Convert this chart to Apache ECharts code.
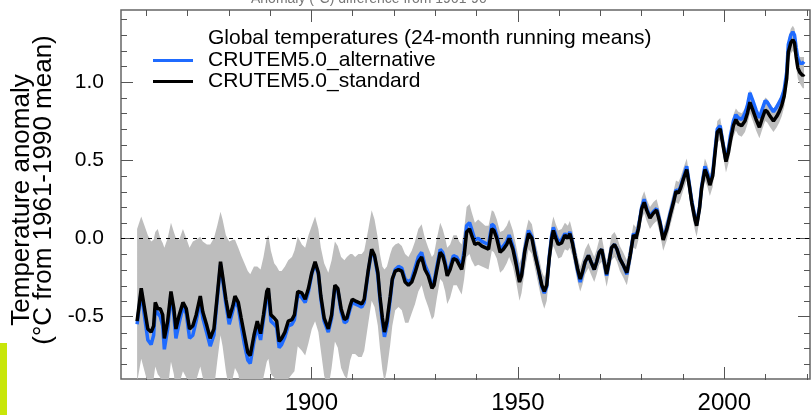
<!DOCTYPE html>
<html>
<head>
<meta charset="utf-8">
<script src="https://cdn.jsdelivr.net/npm/echarts@6/dist/echarts.min.js"></script>
<style>
  html, body { margin: 0; padding: 0; background: #fff; }
  #chart { width: 811px; height: 415px; }
</style>
</head>
<body>
<div id="chart"></div>
<script>
// CRUTEM5.0 global land temperature anomalies, 24-month running means (°C vs 1961-1990)
const years = [
  1857.8,1858.8,1859.6,1860.4,1861.2,1861.8,1862.2,1862.8,1863.4,1864.0,1864.4,1865.2,1866.0,1866.7,1867.2,1868.0,1868.9,1869.7,
  1870.5,1871.3,1872.1,1873.1,1873.7,1874.7,1875.5,1876.4,1877.2,1878.0,1878.5,1879.3,1880.1,1881.0,1881.5,1882.3,1883.0,1883.8,
  1884.6,1885.2,1886.1,1886.9,1887.7,1888.4,1889.2,1889.6,1890.2,1891.0,1891.6,1892.2,1892.8,1893.6,1894.4,1895.3,1895.9,1896.7,
  1897.7,1898.5,1899.3,1900.1,1900.9,1901.7,1902.3,1903.1,1904.1,1904.9,1905.7,1906.4,1907.2,1908.0,1908.6,1909.4,1909.9,1910.6,
  1911.4,1912.2,1912.8,1913.8,1914.6,1915.3,1916.1,1916.6,1917.2,1917.7,1918.3,1919.1,1919.6,1920.3,1921.1,1921.9,1922.7,1923.5,
  1924.3,1925.1,1925.9,1926.7,1927.5,1928.3,1929.2,1929.7,1930.4,1931.2,1931.8,1932.4,1932.9,1933.6,1934.4,1935.2,1935.8,1936.4,
  1937.0,1937.6,1938.3,1938.8,1939.6,1940.4,1941.3,1942.1,1942.9,1943.7,1944.2,1944.9,1945.7,1946.5,1947.3,1947.9,1948.8,1949.6,
  1950.4,1950.9,1951.7,1952.6,1953.4,1954.2,1955.0,1955.8,1956.4,1957.0,1957.6,1958.2,1958.6,1959.2,1959.8,1960.6,1961.4,1962.1,
  1962.6,1963.2,1963.8,1964.5,1965.1,1965.6,1966.3,1967.1,1967.7,1968.5,1969.1,1969.7,1970.3,1970.9,1971.5,1972.1,1972.7,1973.4,
  1974.0,1974.7,1975.5,1976.4,1977.2,1978.0,1978.6,1979.2,1980.0,1980.6,1981.2,1982.0,1982.8,1983.6,1984.4,1985.2,1986.1,1986.9,
  1987.7,1988.3,1988.9,1989.4,1990.1,1990.9,1991.5,1992.1,1992.9,1993.3,1994.0,1994.5,1995.3,1995.9,1996.5,1997.2,1997.7,1998.3,
  1999.0,1999.6,2000.4,2001.0,2001.5,2002.2,2002.8,2003.4,2004.2,2005.0,2005.6,2006.2,2006.9,2007.7,2008.5,2009.1,2009.9,2010.4,
  2011.1,2011.9,2012.7,2013.3,2013.9,2014.5,2015.1,2015.5,2016.1,2016.6,2017.0,2017.4,2017.8,2018.3,2019.0,2019.3
];

const standard = [
  -0.53,-0.32,-0.45,-0.58,-0.60,-0.56,-0.41,-0.45,-0.45,-0.49,-0.64,-0.53,-0.34,-0.45,-0.58,-0.49,-0.41,-0.45,
  -0.58,-0.56,-0.49,-0.37,-0.47,-0.56,-0.64,-0.58,-0.37,-0.15,-0.24,-0.39,-0.51,-0.43,-0.37,-0.41,-0.51,-0.62,
  -0.73,-0.75,-0.62,-0.53,-0.61,-0.49,-0.34,-0.32,-0.49,-0.51,-0.53,-0.66,-0.64,-0.60,-0.53,-0.52,-0.49,-0.34,
  -0.35,-0.39,-0.32,-0.22,-0.15,-0.22,-0.37,-0.51,-0.58,-0.49,-0.30,-0.32,-0.45,-0.52,-0.51,-0.43,-0.39,-0.40,
  -0.41,-0.42,-0.39,-0.20,-0.07,-0.11,-0.22,-0.37,-0.51,-0.60,-0.53,-0.37,-0.26,-0.21,-0.20,-0.21,-0.28,-0.30,
  -0.28,-0.22,-0.15,-0.12,-0.20,-0.24,-0.32,-0.30,-0.20,-0.09,-0.11,-0.17,-0.24,-0.20,-0.13,-0.14,-0.17,-0.20,
  -0.11,0.04,0.06,0.02,-0.04,-0.03,-0.05,-0.06,-0.07,0.06,0.05,0.00,-0.09,-0.07,-0.04,0.00,-0.07,-0.17,
  -0.28,-0.24,-0.08,0.03,0.00,-0.11,-0.20,-0.30,-0.34,-0.30,-0.13,0.00,0.05,0.00,-0.04,-0.03,0.02,0.00,
  0.03,-0.03,-0.11,-0.20,-0.26,-0.22,-0.15,-0.11,-0.15,-0.20,-0.15,-0.09,-0.07,-0.15,-0.23,-0.15,-0.06,-0.04,
  -0.07,-0.13,-0.17,-0.22,-0.11,0.02,0.00,0.06,0.19,0.23,0.18,0.13,0.16,0.18,0.10,-0.01,0.06,0.15,
  0.23,0.30,0.29,0.32,0.38,0.44,0.34,0.23,0.12,0.08,0.19,0.32,0.44,0.40,0.34,0.40,0.53,0.68,
  0.70,0.61,0.49,0.55,0.63,0.72,0.76,0.73,0.72,0.75,0.80,0.87,0.82,0.76,0.71,0.76,0.82,0.81,
  0.78,0.75,0.78,0.81,0.85,0.91,1.02,1.19,1.25,1.27,1.25,1.16,1.09,1.06,1.04,1.05
];

const alternative = [
  -0.55,-0.34,-0.50,-0.65,-0.68,-0.62,-0.45,-0.48,-0.50,-0.56,-0.71,-0.58,-0.36,-0.49,-0.64,-0.54,-0.44,-0.48,
  -0.64,-0.62,-0.53,-0.40,-0.51,-0.61,-0.69,-0.62,-0.39,-0.17,-0.26,-0.42,-0.55,-0.46,-0.40,-0.44,-0.56,-0.68,
  -0.78,-0.80,-0.66,-0.57,-0.65,-0.52,-0.37,-0.35,-0.53,-0.55,-0.57,-0.70,-0.68,-0.63,-0.56,-0.55,-0.52,-0.36,
  -0.38,-0.41,-0.34,-0.23,-0.16,-0.23,-0.39,-0.53,-0.60,-0.51,-0.31,-0.33,-0.47,-0.54,-0.53,-0.45,-0.41,-0.42,
  -0.43,-0.44,-0.41,-0.21,-0.08,-0.12,-0.24,-0.39,-0.54,-0.63,-0.56,-0.39,-0.27,-0.20,-0.18,-0.19,-0.26,-0.28,
  -0.26,-0.19,-0.12,-0.09,-0.17,-0.22,-0.30,-0.28,-0.18,-0.07,-0.09,-0.15,-0.22,-0.18,-0.11,-0.12,-0.15,-0.17,
  -0.08,0.08,0.10,0.06,-0.01,0.00,-0.02,-0.03,-0.04,0.09,0.08,0.02,-0.07,-0.05,-0.02,0.02,-0.05,-0.15,
  -0.27,-0.23,-0.07,0.05,0.01,-0.10,-0.20,-0.31,-0.35,-0.31,-0.12,0.02,0.07,0.02,-0.02,-0.01,0.03,0.01,
  0.04,-0.02,-0.11,-0.21,-0.28,-0.23,-0.15,-0.11,-0.15,-0.20,-0.15,-0.09,-0.07,-0.15,-0.24,-0.15,-0.06,-0.04,
  -0.07,-0.13,-0.17,-0.23,-0.11,0.03,0.01,0.07,0.20,0.25,0.19,0.14,0.17,0.19,0.11,0.00,0.07,0.16,
  0.24,0.31,0.30,0.33,0.39,0.46,0.35,0.24,0.13,0.09,0.20,0.33,0.46,0.42,0.35,0.42,0.55,0.70,
  0.72,0.62,0.50,0.57,0.66,0.75,0.79,0.77,0.76,0.80,0.85,0.93,0.88,0.82,0.77,0.82,0.88,0.87,
  0.84,0.81,0.84,0.87,0.90,0.95,1.06,1.24,1.30,1.32,1.30,1.22,1.15,1.12,1.12,1.13
];

// Lower and upper edges of the uncertainty range
const bandLow = [
  -0.92,-0.77,-0.85,-0.93,-0.92,-0.90,-0.82,-0.87,-0.89,-0.95,-1.05,-0.97,-0.79,-0.87,-0.99,-0.93,-0.85,-0.89,
  -0.93,-0.92,-0.91,-0.82,-0.89,-1.00,-1.03,-0.97,-0.79,-0.62,-0.69,-0.85,-0.97,-0.89,-0.83,-0.87,-0.97,-1.05,
  -1.12,-1.15,-1.05,-0.99,-1.02,-0.89,-0.79,-0.77,-0.87,-0.89,-0.93,-1.02,-1.00,-0.97,-0.90,-0.87,-0.85,-0.69,
  -0.72,-0.75,-0.67,-0.58,-0.53,-0.60,-0.72,-0.88,-0.96,-0.83,-0.66,-0.70,-0.83,-0.88,-0.90,-0.78,-0.74,-0.74,
  -0.76,-0.76,-0.72,-0.54,-0.40,-0.44,-0.56,-0.70,-0.84,-0.92,-0.84,-0.68,-0.56,-0.46,-0.44,-0.46,-0.54,-0.54,
  -0.48,-0.42,-0.34,-0.30,-0.38,-0.44,-0.52,-0.50,-0.38,-0.26,-0.28,-0.34,-0.42,-0.38,-0.30,-0.30,-0.33,-0.36,
  -0.26,-0.12,-0.10,-0.14,-0.18,-0.17,-0.18,-0.19,-0.20,-0.08,-0.09,-0.13,-0.22,-0.20,-0.16,-0.12,-0.18,-0.28,
  -0.40,-0.35,-0.20,-0.07,-0.10,-0.20,-0.30,-0.40,-0.45,-0.40,-0.23,-0.09,-0.05,-0.09,-0.13,-0.12,-0.07,-0.08,
  -0.06,-0.11,-0.19,-0.28,-0.34,-0.30,-0.23,-0.19,-0.23,-0.28,-0.23,-0.17,-0.15,-0.23,-0.31,-0.23,-0.14,-0.12,
  -0.15,-0.21,-0.25,-0.30,-0.19,-0.06,-0.07,-0.01,0.12,0.16,0.11,0.06,0.09,0.11,0.03,-0.08,-0.01,0.08,
  0.16,0.23,0.22,0.25,0.31,0.37,0.27,0.16,0.05,0.01,0.12,0.25,0.37,0.33,0.27,0.33,0.46,0.61,
  0.63,0.54,0.42,0.48,0.56,0.65,0.69,0.66,0.65,0.68,0.73,0.80,0.75,0.69,0.64,0.69,0.75,0.74,
  0.71,0.68,0.71,0.74,0.78,0.84,0.95,1.12,1.18,1.20,1.18,1.09,1.02,0.99,0.96,0.96
];

const bandHigh = [
  0.06,0.14,0.08,0.02,-0.02,-0.01,0.04,0.06,0.00,-0.03,-0.06,0.00,0.10,0.04,0.00,-0.01,0.06,0.00,
  -0.06,-0.02,-0.01,0.01,-0.02,-0.04,-0.04,0.00,0.08,0.17,0.12,0.02,-0.02,-0.01,-0.01,-0.06,-0.11,-0.16,
  -0.21,-0.23,-0.18,-0.18,-0.20,-0.12,0.00,0.02,-0.08,-0.16,-0.18,-0.21,-0.21,-0.18,-0.14,-0.12,-0.08,0.01,
  -0.04,-0.06,0.02,0.08,0.14,0.06,-0.06,-0.16,-0.22,-0.14,-0.02,-0.05,-0.12,-0.14,-0.12,-0.10,-0.10,-0.12,
  -0.10,-0.10,-0.08,0.06,0.18,0.12,0.00,-0.10,-0.18,-0.20,-0.18,-0.10,-0.06,-0.04,-0.03,-0.05,-0.10,-0.12,
  -0.08,-0.02,0.06,0.09,0.00,-0.06,-0.12,-0.10,0.00,0.10,0.06,0.00,-0.06,-0.04,0.02,0.02,-0.02,-0.04,
  0.06,0.20,0.22,0.17,0.10,0.12,0.10,0.08,0.08,0.18,0.17,0.12,0.04,0.05,0.08,0.12,0.05,-0.05,
  -0.16,-0.12,0.02,0.12,0.09,-0.02,-0.11,-0.21,-0.25,-0.20,-0.04,0.09,0.14,0.09,0.05,0.06,0.10,0.08,
  0.11,0.05,-0.03,-0.12,-0.18,-0.14,-0.07,-0.03,-0.07,-0.12,-0.07,-0.01,0.01,-0.07,-0.15,-0.07,0.02,0.04,
  0.01,-0.05,-0.09,-0.14,-0.03,0.09,0.07,0.13,0.26,0.30,0.25,0.20,0.23,0.25,0.17,0.06,0.13,0.22,
  0.30,0.37,0.36,0.39,0.45,0.51,0.41,0.30,0.19,0.15,0.26,0.39,0.51,0.47,0.41,0.47,0.60,0.75,
  0.77,0.68,0.56,0.62,0.70,0.79,0.83,0.81,0.80,0.83,0.88,0.95,0.90,0.84,0.79,0.84,0.90,0.89,
  0.86,0.83,0.86,0.89,0.93,0.99,1.10,1.28,1.34,1.36,1.34,1.25,1.18,1.16,1.16,1.16
];

const seriesNames = ['CRUTEM5.0_alternative', 'CRUTEM5.0_standard'];
const xLabelYears = [1900, 1950, 2000];
const xMinorYears = [1860, 1870, 1880, 1890, 1910, 1920, 1930, 1940, 1960, 1970, 1980, 1990, 2010, 2020];
const yLabelValues = [-0.5, 0.0, 0.5, 1.0];
const yMinorValues = [-0.8, -0.7, -0.6, -0.4, -0.3, -0.2, -0.1, 0.1, 0.2, 0.3, 0.4, 0.6, 0.7, 0.8, 0.9, 1.1, 1.2, 1.3, 1.4];

const X_MIN = 1853.9, X_MAX = 2020.75, Y_MIN = -0.9, Y_MAX = 1.46;
const FONT = '"Liberation Sans", Arial, Helvetica, sans-serif';
const TICK_COLOR = '#555';
const PLOT = { left: 121, right: 1, top: 10, bottom: 35 };

function xAxisDef(grid, position, ticks, len, withLabels) {
  return {
    type: 'value', gridIndex: grid, position: position, min: X_MIN, max: X_MAX,
    axisLine: { show: false, onZero: false }, splitLine: { show: false },
    axisTick: { show: true, inside: true, length: len, customValues: ticks,
                lineStyle: { color: TICK_COLOR, width: 1 } },
    axisLabel: withLabels
      ? { show: true, customValues: ticks, margin: 12, color: '#000', fontSize: 24,
          fontFamily: FONT, formatter: v => String(Math.round(v)) }
      : { show: false }
  };
}

function yAxisDef(grid, position, ticks, len, withLabels) {
  return {
    type: 'value', gridIndex: grid, position: position, min: Y_MIN, max: Y_MAX,
    axisLine: { show: false, onZero: false }, splitLine: { show: false },
    axisTick: { show: true, inside: true, length: len, customValues: ticks,
                lineStyle: { color: TICK_COLOR, width: 1 } },
    axisLabel: withLabels
      ? { show: true, customValues: ticks, margin: 17, color: '#000', fontSize: 21,
          fontFamily: FONT, formatter: v => v.toFixed(1) }
      : { show: false }
  };
}

const chart = echarts.init(document.getElementById('chart'), null, { renderer: 'canvas' });

chart.setOption({
  animation: false,
  backgroundColor: '#fff',
  textStyle: { fontFamily: FONT },
  // Two overlapping grids: the first carries the data and the major ticks,
  // the second only the minor ticks on all four sides.
  grid: [
    Object.assign({ show: true, borderColor: '#666', borderWidth: 1.5, backgroundColor: 'transparent' }, PLOT),
    Object.assign({ show: false }, PLOT)
  ],
  title: [
    {
      text: 'Anomaly (°C) difference from 1961-90',
      left: 246, top: -13,
      textStyle: { fontSize: 14, fontWeight: 'normal', color: '#777', fontFamily: FONT }
    },
    {
      text: 'Global temperatures (24-month running means)',
      left: 203, top: 23,
      textStyle: { fontSize: 21, fontWeight: 'normal', color: '#000', fontFamily: FONT }
    }
  ],
  legend: {
    data: seriesNames,
    orient: 'vertical',
    left: 148, top: 45,
    itemWidth: 40, itemHeight: 3, itemGap: 0,
    icon: 'rect',
    textStyle: { fontSize: 21, color: '#000', fontFamily: FONT, lineHeight: 21, padding: [0, 0, 0, 10] }
  },
  xAxis: [
    xAxisDef(0, 'bottom', xLabelYears, 12, true),
    xAxisDef(0, 'top', xLabelYears, 12, false),
    xAxisDef(1, 'bottom', xMinorYears, 6, false),
    xAxisDef(1, 'top', xMinorYears, 6, false)
  ],
  yAxis: [
    yAxisDef(0, 'left', yLabelValues, 12, true),
    yAxisDef(0, 'right', yLabelValues, 12, false),
    yAxisDef(1, 'left', yMinorValues, 6, false),
    yAxisDef(1, 'right', yMinorValues, 6, false)
  ],
  graphic: [
    {
      type: 'text', x: 22, y: 200, rotation: Math.PI / 2,
      style: { text: 'Temperature anomaly', fill: '#000', fontSize: 26, fontFamily: FONT,
               align: 'center', verticalAlign: 'middle', textAlign: 'center', textVerticalAlign: 'middle' }
    },
    {
      type: 'text', x: 44, y: 190, rotation: Math.PI / 2,
      style: { text: '(°C from 1961-1990 mean)', fill: '#000', fontSize: 26, fontFamily: FONT,
               align: 'center', verticalAlign: 'middle', textAlign: 'center', textVerticalAlign: 'middle' }
    },
    {
      type: 'rect', shape: { x: 0, y: 343, width: 7, height: 72 },
      style: { fill: '#c8e60a' }
    }
  ],
  series: [
    {
      name: 'range',
      type: 'custom',
      xAxisIndex: 0, yAxisIndex: 0,
      z: 1,
      clip: true,
      silent: true,
      data: years.map((y, i) => [y, bandLow[i], bandHigh[i]]),
      encode: { x: 0, y: [1, 2] },
      renderItem: function (params, api) {
        if (params.dataIndex !== 0) return null;
        const pts = [];
        for (let i = 0; i < years.length; i++) pts.push(api.coord([years[i], bandHigh[i]]));
        for (let i = years.length - 1; i >= 0; i--) pts.push(api.coord([years[i], bandLow[i]]));
        const cs = params.coordSys;
        return {
          type: 'polygon',
          shape: { points: pts },
          style: { fill: '#bdbdbd' },
          clipPath: { type: 'rect', shape: { x: cs.x, y: cs.y, width: cs.width, height: cs.height } }
        };
      }
    },
    {
      name: 'zero',
      type: 'line',
      xAxisIndex: 0, yAxisIndex: 0,
      z: 2,
      data: [],
      silent: true,
      markLine: {
        silent: true, symbol: ['none', 'none'], animation: false,
        label: { show: false },
        lineStyle: { color: '#000', width: 1, type: [4, 5] },
        data: [{ yAxis: 0 }]
      }
    },
    {
      name: seriesNames[0],
      type: 'line',
      xAxisIndex: 0, yAxisIndex: 0,
      z: 3,
      color: '#1f6bff',
      showSymbol: false, symbol: 'none',
      lineStyle: { width: 3.5, color: '#1f6bff' },
      data: years.map((y, i) => [y, alternative[i]])
    },
    {
      name: seriesNames[1],
      type: 'line',
      xAxisIndex: 0, yAxisIndex: 0,
      z: 4,
      color: '#000',
      showSymbol: false, symbol: 'none',
      lineStyle: { width: 3.5, color: '#000' },
      data: years.map((y, i) => [y, standard[i]])
    }
  ]
});
</script>
</body>
</html>
